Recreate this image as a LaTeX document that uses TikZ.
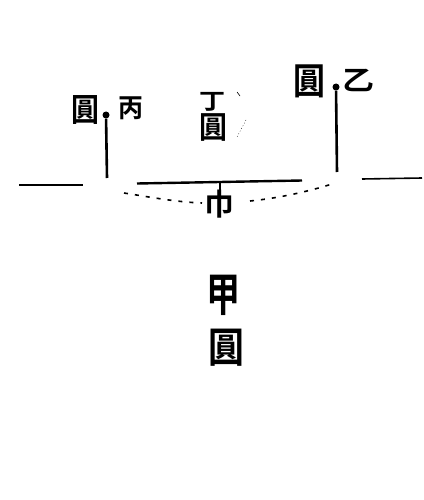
\documentclass[tikz,border=0pt]{standalone}
\usepackage{fontspec}
\usepackage{graphicx}
\newfontfamily\cjk{Noto Sans CJK TC Bold}
\newcommand\tallglyph[2]{\scalebox{1}[#1]{#2}}
\tikzset{
  x=1pt,y=-1pt,
  glyph/.style={inner sep=0pt,outer sep=0pt,font=\cjk\fontsize{#1}{#1}\selectfont},
  ground/.style={line width=1.6pt},
  post/.style={line width=2.6pt},
  knob/.style={circle,fill=black,minimum size=7pt,inner sep=0pt},
  dotline/.style={line width=1.6pt,dash pattern=on 4pt off 7pt},
  faint/.style={line width=0.3pt,dash pattern=on 1pt off 2pt}
}
\begin{document}
\begin{tikzpicture}
\useasboundingbox (0,0) rectangle (423,500);
\fill[white] (0,0) rectangle (423,500);
% ground
\coordinate (la) at (19,185); \coordinate (lb) at (83,185);
\coordinate (ma) at (137,183.5); \coordinate (mb) at (302,180.5);
\coordinate (ra) at (362,179); \coordinate (rb) at (422,178);
\draw[ground] (la) -- (lb);
\draw[ground,line width=2.4pt] (ma) -- (mb);
\draw[ground] (ra) -- (rb);
% posts
\node[knob] (kl) at (106,115) {};
\node[knob] (kr) at (336,87) {};
\coordinate (bl) at (107,178); \coordinate (br) at (337,172);
\draw[post] (kl) -- (bl);
\draw[post] (kr) -- (br);
% dotted arc
\coordinate (aa) at (124,193); \coordinate (ac) at (202,203);
\coordinate (ad) at (250,201); \coordinate (ab) at (332,184);
\draw[dotline] (aa) .. controls (150,197) and (175,202) .. (ac);
\draw[dotline] (ad) .. controls (280,198) and (310,191) .. (ab);
% stem
\coordinate (sa) at (220,183); \coordinate (sb) at (220,216);
\draw[line width=2.4pt] (sa) -- (sb);
% faint marks
\coordinate (fa) at (237,92); \coordinate (fb) at (240,96);
\coordinate (fc) at (246,120); \coordinate (fd) at (237,137);
\draw[line width=.6pt] (fa) -- (fb);
\draw[faint] (fc) -- (fd);
% labels
\node[glyph=28] (t1) at (85,110) {\tallglyph{1.15}{圓}};
\node[glyph=25] (t2) at (130.5,108) {\tallglyph{1.05}{丙}};
\node[glyph=32] (t3) at (309,81) {\tallglyph{1.15}{圓}};
\node[glyph=32] (t4) at (358,80) {\tallglyph{0.85}{乙}};
\node[glyph=26] (t5) at (212,102) {\tallglyph{0.85}{丁}};
\node[glyph=28] (t6) at (213,127.5) {\tallglyph{1.1}{圓}};
\node[glyph=30] (t7) at (219,204) {\tallglyph{1}{巾}};
\node[glyph=34] (t8) at (223,295) {\tallglyph{1.35}{甲}};
\node[glyph=36] (t9) at (226,348) {\tallglyph{1.15}{圓}};
\end{tikzpicture}
\end{document}
